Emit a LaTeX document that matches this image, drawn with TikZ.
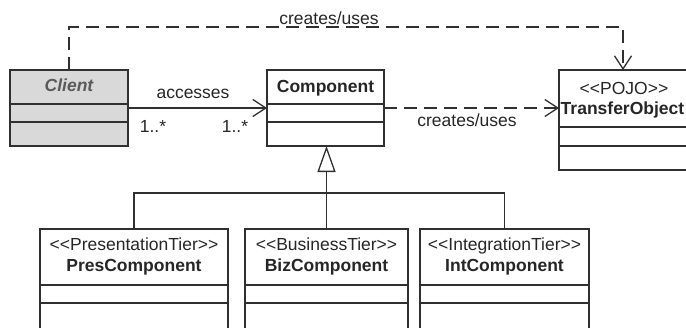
\documentclass[tikz,border=0pt]{standalone}
\usepackage{fontspec}
\setmainfont{Liberation Sans}
\usetikzlibrary{arrows.meta}
\definecolor{linec}{HTML}{303030}
\definecolor{txtc}{HTML}{262626}
\definecolor{clientfill}{HTML}{D9D9D9}
\definecolor{clienttxt}{HTML}{5A5A5A}
\newcommand{\stereo}[1]{<{}<#1>{}>}
\begin{document}
\begin{tikzpicture}[x=1pt,y=-1pt,
  box/.style={draw=linec, line width=1.3pt, inner sep=0pt, outer sep=0pt, rectangle},
  divider/.style={draw=linec, line width=1.3pt},
  lbl/.style={inner sep=0pt, anchor=base, font=\fontsize{17.5}{21}\selectfont, text=txtc},
  blbl/.style={lbl, font=\fontsize{17.5}{21}\selectfont\bfseries},
  conn/.style={draw=linec, line width=1.3pt},
  dsh/.style={conn, dash pattern=on 13pt off 7pt},
  openarrow/.style={-{Straight Barb[length=13pt,width=17pt]}},
  gen/.style={-{Triangle[open,length=26pt,width=18pt]}}
]
\useasboundingbox (0,0) rectangle (686,327);

% classes
\node[box, fill=clientfill, minimum width=118pt, minimum height=76pt] (client) at (69,108) {};
\draw[divider] (client.west |- 0,104) -- (client.east |- 0,104);
\draw[divider] (client.west |- 0,122) -- (client.east |- 0,122);
\node[lbl, font=\fontsize{17.5}{21}\selectfont\bfseries\itshape, text=clienttxt] (clientname) at (69,91) {Client};

\node[box, minimum width=117pt, minimum height=76pt] (comp) at (325.5,108) {};
\draw[divider] (comp.west |- 0,104) -- (comp.east |- 0,104);
\draw[divider] (comp.west |- 0,122) -- (comp.east |- 0,122);
\node[blbl] (compname) at (325.5,92) {Component};

\node[box, minimum width=132pt, minimum height=100pt] (to) at (625,120) {};
\draw[divider] (to.west |- 0,127) -- (to.east |- 0,127);
\draw[divider] (to.west |- 0,146) -- (to.east |- 0,146);
\node[lbl] (tostereo) at (624,94) {\stereo{POJO}};
\node[blbl] (toname) at (622.5,114) {TransferObject};

\node[box, minimum width=188pt, minimum height=111pt] (pres) at (134,284.5) {};
\draw[divider] (pres.west |- 0,285) -- (pres.east |- 0,285);
\draw[divider] (pres.west |- 0,303) -- (pres.east |- 0,303);
\node[lbl] (presstereo) at (134,250) {\stereo{PresentationTier}};
\node[blbl] (presname) at (134,271) {PresComponent};

\node[box, minimum width=163pt, minimum height=111pt] (biz) at (326.5,284.5) {};
\draw[divider] (biz.west |- 0,285) -- (biz.east |- 0,285);
\draw[divider] (biz.west |- 0,303) -- (biz.east |- 0,303);
\node[lbl] (bizstereo) at (326.5,250) {\stereo{BusinessTier}};
\node[blbl] (bizname) at (326.5,271) {BizComponent};

\node[box, minimum width=169pt, minimum height=111pt] (int) at (504.5,284.5) {};
\draw[divider] (int.west |- 0,285) -- (int.east |- 0,285);
\draw[divider] (int.west |- 0,303) -- (int.east |- 0,303);
\node[lbl] (intstereo) at (504.5,250) {\stereo{IntegrationTier}};
\node[blbl] (intname) at (504.5,271) {IntComponent};

% connectors
\coordinate (tc1) at (69,27);
\coordinate (tc2) at (623,27);
\draw[dsh, openarrow] (client.north) -- (tc1) -- (tc2) -- (tc2 |- to.north);
\node[lbl] (lbltop) at (329,24) {creates/uses};

\draw[conn, openarrow] (client.east) -- (comp.west);
\node[lbl] (lblacc) at (193,98) {accesses};
\node[lbl] (mult1) at (153,132) {1..*};
\node[lbl] (mult2) at (235,132) {1..*};

\draw[dsh, openarrow] (comp.east) -- (comp.east -| to.west);
\node[lbl] (lblcu) at (467,126) {creates/uses};

\coordinate (bar) at (326.5,193);
\draw[conn] (pres.north) |- (bar) -| (int.north);
\draw[conn, gen] (biz.north) -- (biz.north |- comp.south);
\end{tikzpicture}
\end{document}
